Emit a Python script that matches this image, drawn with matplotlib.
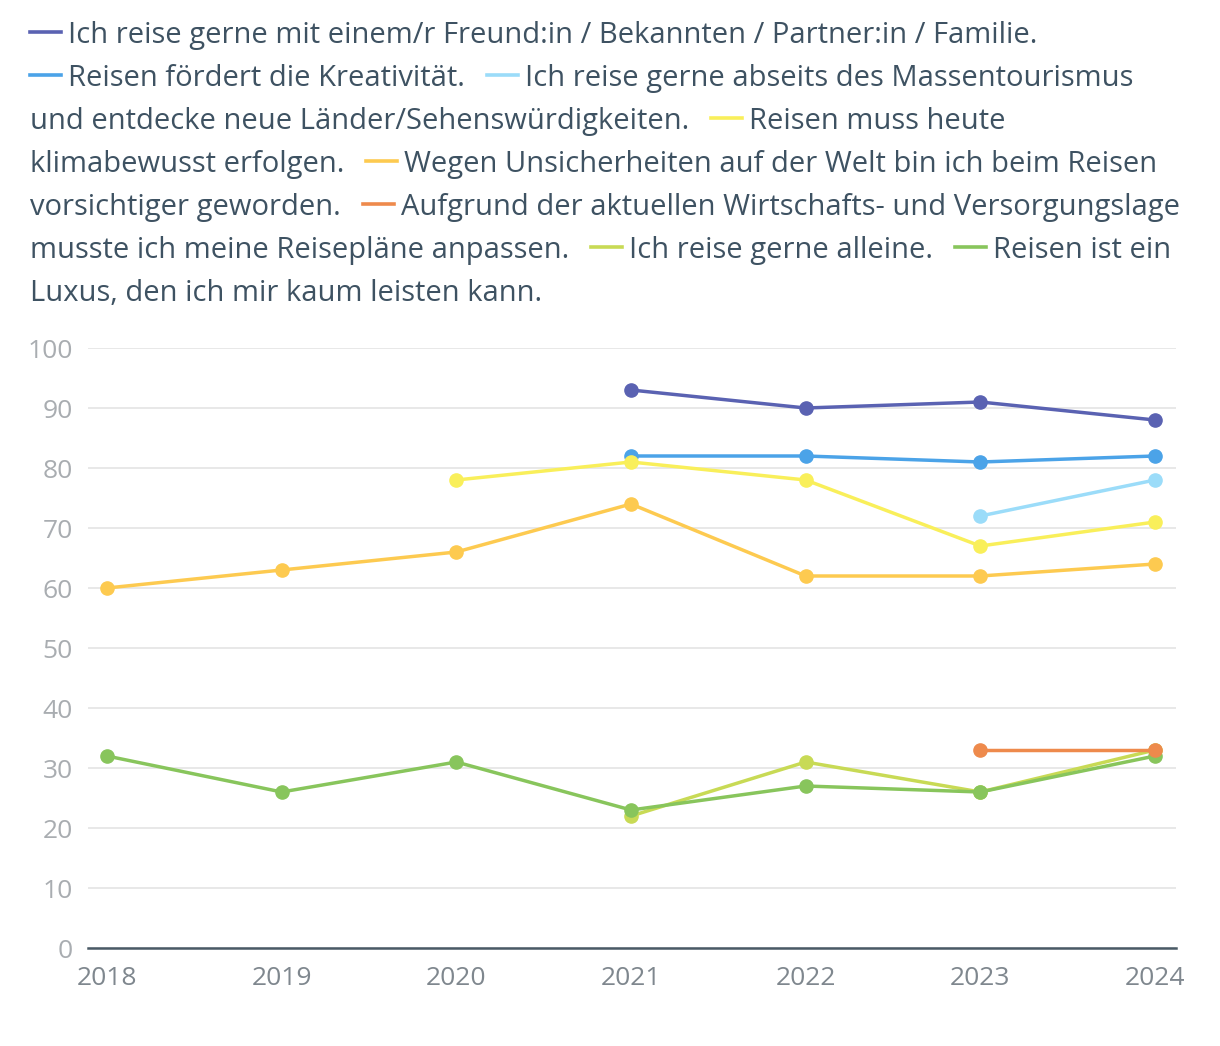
import matplotlib
matplotlib.use("Agg")
import matplotlib.pyplot as plt
from matplotlib.lines import Line2D

FONT = "Open Sans"
plt.rcParams["font.family"] = [FONT, "DejaVu Sans"]

years = [2018, 2019, 2020, 2021, 2022, 2023, 2024]

labels = [
    "Ich reise gerne mit einem/r Freund:in / Bekannten / Partner:in / Familie.",
    "Reisen fördert die Kreativität.",
    "Ich reise gerne abseits des Massentourismus und entdecke neue Länder/Sehenswürdigkeiten.",
    "Reisen muss heute klimabewusst erfolgen.",
    "Wegen Unsicherheiten auf der Welt bin ich beim Reisen vorsichtiger geworden.",
    "Aufgrund der aktuellen Wirtschafts- und Versorgungslage musste ich meine Reisepläne anpassen.",
    "Ich reise gerne alleine.",
    "Reisen ist ein Luxus, den ich mir kaum leisten kann.",
]
colors = ["#5a62b2", "#4ba3e8", "#9bdcf9", "#f9ef5a", "#fdca50",
          "#ee8a4c", "#c8da55", "#88c55c"]

# None = no value that year
freunde = [None, None, None, 93, 90, 91, 88]
kreativ = [None, None, None, 82, 82, 81, 82]
abseits = [None, None, None, None, None, 72, 78]
klima = [None, None, 78, 81, 78, 67, 71]
unsicher = [60, 63, 66, 74, 62, 62, 64]
wirtschaft = [None, None, None, None, None, 33, 33]
alleine = [None, None, None, 22, 31, 26, 33]
luxus = [32, 26, 31, 23, 27, 26, 32]
series = [freunde, kreativ, abseits, klima, unsicher, wirtschaft, alleine, luxus]

# legend rows as wrapped in the original: (series index or None for continuation, text)
legend_rows = [
    [(0, labels[0])],
    [(1, labels[1]), (2, "Ich reise gerne abseits des Massentourismus")],
    [(None, "und entdecke neue Länder/Sehenswürdigkeiten."), (3, "Reisen muss heute")],
    [(None, "klimabewusst erfolgen."), (4, "Wegen Unsicherheiten auf der Welt bin ich beim Reisen")],
    [(None, "vorsichtiger geworden."), (5, "Aufgrund der aktuellen Wirtschafts- und Versorgungslage")],
    [(None, "musste ich meine Reisepläne anpassen."), (6, labels[6]), (7, "Reisen ist ein")],
    [(None, "Luxus, den ich mir kaum leisten kann.")],
]

W, H = 1220, 1046
fig = plt.figure(figsize=(W / 100, H / 100), dpi=100)
ax = fig.add_axes([88 / W, 1 - 948 / H, (1176 - 88) / W, (948 - 348) / H])

for i, vals in enumerate(series):
    xs = [y for y, v in zip(years, vals) if v is not None]
    ys = [v for v in vals if v is not None]
    z = 10 if i == 5 else 3 + i * 0.1
    ax.plot(xs, ys, color=colors[i], lw=2.5, marker="o", ms=9.5,
            solid_capstyle="round", zorder=z, clip_on=False)

ax.set_xlim(2018 - 19 / 174.67, 2024 + 21 / 174.67)
ax.set_ylim(0, 100)
ax.set_yticks(range(0, 101, 10))
ax.set_xticks(years)
ax.grid(axis="y", color="#e6e6e6", lw=1.3)
ax.set_axisbelow(True)
for s in ["top", "right", "left"]:
    ax.spines[s].set_visible(False)
ax.spines["bottom"].set_color("#4a5a66")
ax.spines["bottom"].set_linewidth(1.8)
ax.tick_params(axis="y", length=0, pad=11, labelsize=19, labelcolor="#a9adb1")
ax.tick_params(axis="x", length=0, pad=13, labelsize=19, labelcolor="#7f878e")

# legend as flowing text
fs = 21
fig.canvas.draw()
renderer = fig.canvas.get_renderer()
row_y = [32, 75, 118, 161, 204, 247, 290]
for r, row in enumerate(legend_rows):
    x = 30
    yf = 1 - row_y[r] / H
    for k, (idx, txt) in enumerate(row):
        if k > 0:
            x += 22
        if idx is not None:
            fig.add_artist(Line2D([x / W, (x + 31) / W], [yf, yf], color=colors[idx],
                                  lw=2.6, transform=fig.transFigure))
            x += 38
        t = fig.text(x / W, yf, txt, fontsize=fs, color="#3e5262",
                     va="center_baseline", ha="left")
        bb = t.get_window_extent(renderer)
        x += bb.width

fig.savefig("out.png", dpi=100)
